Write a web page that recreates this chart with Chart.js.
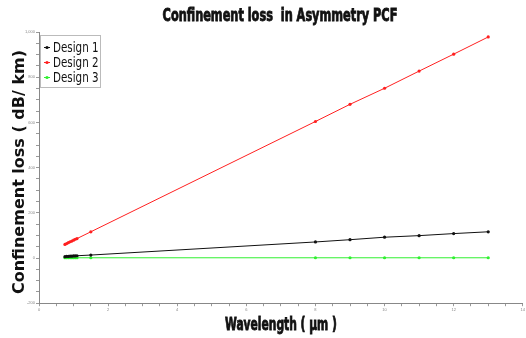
<!DOCTYPE html>
<html>
<head>
<meta charset="utf-8">
<script src="https://cdn.jsdelivr.net/npm/chart.js@4/dist/chart.umd.min.js"></script>
<style>
  html, body { margin: 0; padding: 0; background: #fff; }
  #wrap { width: 526px; height: 338px; position: relative; }
</style>
</head>
<body>
<div id="wrap"><canvas id="chart" width="526" height="338"></canvas></div>
<script>
const wavelength = [0.75, 0.8, 0.85, 0.9, 0.95, 1.0, 1.05, 1.1, 1.5, 8, 9, 10, 11, 12, 13];
const design1 = [6, 7, 7, 8, 8, 9, 9, 10, 13, 71, 81, 92, 99, 108, 116];
const design2 = [60, 64, 68, 72, 75, 79, 83, 86, 116, 604, 680, 751, 827, 902, 978];
const design3 = [1, 1, 1, 1, 1, 1, 1, 1, 1, 1, 1, 1, 1, 1, 1];
const seriesNames = ["Design 1", "Design 2", "Design 3"];
const seriesColors = ["#111111", "#ff2020", "#30f030"];
const chartTitle = "Confinement loss  in Asymmetry PCF";
const xTitle = "Wavelength ( μm )";
const yTitle = "Confinement loss ( dB/ km)";

const narrow = "'DejaVu Sans Condensed', 'Liberation Sans Narrow', sans-serif";

function pts(ys) {
  return wavelength.map((x, i) => ({ x: x, y: ys[i] }));
}

const datasets = [design1, design2, design3].map((ys, i) => ({
  label: seriesNames[i],
  data: pts(ys),
  borderColor: seriesColors[i],
  backgroundColor: seriesColors[i],
  borderWidth: 1,
  pointRadius: 1.6,
  pointHoverRadius: 1.6,
  pointBorderWidth: 0
}));

// squeezed text, the original uses a very narrow heavy face
function narrowText(ctx, text, x, y, font, sx, heavy) {
  ctx.save();
  ctx.font = font;
  ctx.translate(x, y);
  ctx.scale(sx, 1);
  if (heavy) {
    ctx.lineWidth = heavy;
    ctx.strokeStyle = ctx.fillStyle;
    ctx.strokeText(text, 0, 0);
  }
  ctx.fillText(text, 0, 0);
  ctx.restore();
}

const titles = {
  id: "titles",
  afterDraw(chart) {
    const ctx = chart.ctx;
    const a = chart.chartArea;
    ctx.save();
    ctx.fillStyle = "#111";
    ctx.textAlign = "center";
    ctx.textBaseline = "middle";
    narrowText(ctx, chartTitle, 280, 17, "bold 17px " + narrow, 0.74, 0.8);
    narrowText(ctx, xTitle, (a.left + a.right) / 2, 326, "bold 17px " + narrow, 0.7, 0.8);
    // y title
    ctx.translate(20, 172);
    ctx.rotate(-Math.PI / 2);
    ctx.font = "bold 16px 'DejaVu Sans', Verdana, sans-serif";
    ctx.fillText(yTitle, 0, 0);
    ctx.restore();
  }
};

// legend drawn inside the plot, top-left, like the original
const insideLegend = {
  id: "insideLegend",
  afterDraw(chart) {
    const ctx = chart.ctx;
    const a = chart.chartArea;
    const x0 = a.left + 1, y0 = a.top + 3, w = 60, h = 52;
    ctx.save();
    ctx.fillStyle = "#fff";
    ctx.fillRect(x0, y0, w, h);
    ctx.strokeStyle = "#bbbbbb";
    ctx.lineWidth = 1;
    ctx.strokeRect(x0 + 0.5, y0 + 0.5, w, h);
    ctx.textBaseline = "middle";
    chart.data.datasets.forEach((ds, i) => {
      const y = y0 + 12 + i * 15;
      ctx.strokeStyle = ds.borderColor;
      ctx.beginPath();
      ctx.moveTo(x0 + 4, y + 0.5);
      ctx.lineTo(x0 + 10, y + 0.5);
      ctx.stroke();
      ctx.fillStyle = ds.borderColor;
      ctx.beginPath();
      ctx.arc(x0 + 7, y + 0.5, 1.6, 0, Math.PI * 2);
      ctx.fill();
      ctx.fillStyle = "#111";
      narrowText(ctx, ds.label, x0 + 13, y + 1, "14px " + narrow, 0.82);
    });
    ctx.restore();
  }
};

new Chart(document.getElementById("chart"), {
  type: "line",
  data: { datasets },
  plugins: [insideLegend, titles],
  options: {
    responsive: false,
    animation: false,
    layout: { padding: { left: 24, right: 0, top: 32, bottom: 25 } },
    plugins: {
      legend: { display: false },
      tooltip: { enabled: false },
      title: { display: false }
    },
    scales: {
      x: {
        type: "linear",
        min: 0,
        max: 14,
        border: { color: "#888" },
        grid: { drawOnChartArea: false, tickLength: 3, color: "#999" },
        ticks: {
          stepSize: 0.5,
          autoSkip: false,
          maxRotation: 0,
          padding: 1,
          color: "#888",
          font: { size: 4 },
          callback: v => (v % 2 === 0 ? v : "")
        }
      },
      y: {
        min: -200,
        max: 1000,
        border: { color: "#888" },
        grid: { drawOnChartArea: false, tickLength: 3, color: "#999" },
        ticks: {
          stepSize: 50,
          autoSkip: false,
          padding: 1,
          color: "#888",
          font: { size: 4 },
          callback: v => (v % 200 === 0 ? (v === 1000 ? "1,000" : v) : "")
        }
      }
    }
  }
});
</script>
</body>
</html>
